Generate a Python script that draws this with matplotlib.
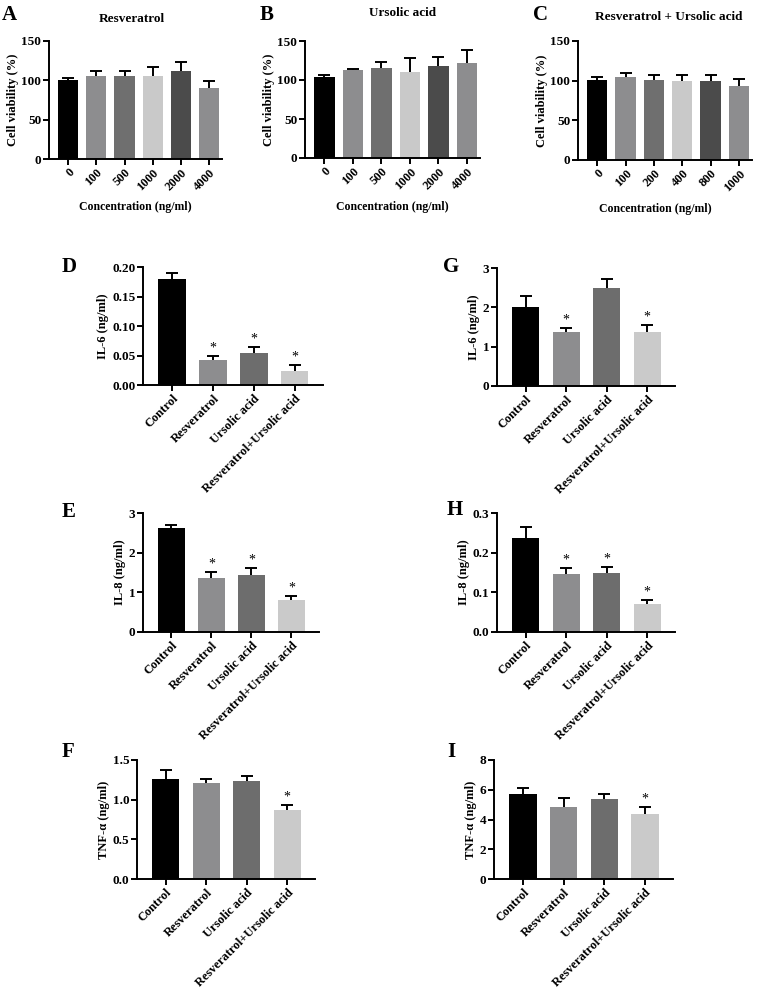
import numpy as np
import matplotlib
matplotlib.use("Agg")
import matplotlib.pyplot as plt

plt.rcParams['font.family'] = ['Liberation Serif', 'DejaVu Serif']
plt.rcParams['font.weight'] = 'bold'

W, H = 759, 992

# viability panels
conc_a = ['0', '100', '500', '1000', '2000', '4000']
via_a = [101, 105, 105.5, 105, 111.5, 90.5]
err_a = [2.5, 7, 6.5, 11.5, 12, 8.5]

conc_b = ['0', '100', '500', '1000', '2000', '4000']
via_b = [104, 112.5, 116, 110.5, 118, 122]
err_b = [1.8, 1.8, 7.5, 18, 11, 16]

conc_c = ['0', '100', '200', '400', '800', '1000']
via_c = [101.4, 104.7, 101, 99.4, 99.8, 93]
err_c = [3.6, 5, 6.3, 8, 7.5, 8.8]

via_colors = ['#000000', '#8d8d8f', '#6f6f6f', '#c9c9c9', '#4b4b4b', '#8d8d8f']

# cytokine panels
groups = ['Control', 'Resveratrol', 'Ursolic acid', 'Resveratrol+Ursolic acid']
grp_colors = ['#000000', '#8d8d8f', '#6d6d6d', '#cacaca']

il6_d = [0.180, 0.042, 0.0535, 0.023]
il6_d_err = [0.010, 0.0075, 0.0115, 0.0105]
il8_e = [2.61, 1.37, 1.43, 0.81]
il8_e_err = [0.09, 0.15, 0.18, 0.11]
tnf_f = [1.261, 1.207, 1.24, 0.871]
tnf_f_err = [0.113, 0.058, 0.059, 0.059]

il6_g = [2.0, 1.365, 2.485, 1.38]
il6_g_err = [0.30, 0.105, 0.225, 0.17]
il8_h = [0.2375, 0.1466, 0.150, 0.0708]
il8_h_err = [0.027, 0.016, 0.014, 0.0102]
tnf_i = [5.69, 4.86, 5.36, 4.39]
tnf_i_err = [0.43, 0.61, 0.36, 0.43]

sig_d = [False, True, True, True]
sig_e = [False, True, True, True]
sig_f = [False, False, False, True]
sig_g = [False, True, False, True]
sig_h = [False, True, True, True]
sig_i = [False, False, False, True]

fig = plt.figure(figsize=(W / 100, H / 100), dpi=100)


def px_axes(left, top, right, bottom):
    return fig.add_axes([left / W, 1 - bottom / H, (right - left) / W, (bottom - top) / H])


def bar_panel(ax, labels, vals, errs, colors, yticks, fmt, ylabel, xlim, width, sig=None):
    x = np.arange(len(vals))
    ax.errorbar(x, vals, yerr=errs, fmt='none', ecolor='black', elinewidth=1.4,
                capsize=4, capthick=1.4, zorder=1)
    ax.bar(x, vals, width=width, color=colors, zorder=2)
    ax.set_xlim(*xlim)
    ax.set_ylim(yticks[0], yticks[-1])
    ax.set_yticks(yticks)
    ax.set_yticklabels([fmt.format(t) for t in yticks], fontsize=9.5, fontweight='bold')
    ax.set_xticks(x)
    ax.set_xticklabels(labels, rotation=45, ha='right', rotation_mode='anchor',
                       fontsize=9, fontweight='bold')
    ax.set_ylabel(ylabel, fontsize=9, fontweight='bold', labelpad=2)
    for s in ['top', 'right']:
        ax.spines[s].set_visible(False)
    for s in ['left', 'bottom']:
        ax.spines[s].set_linewidth(1.4)
    ax.tick_params(width=1.4, length=4, pad=1.5)
    if sig is not None:
        for xi, v, e, s in zip(x, vals, errs, sig):
            if s:
                ax.annotate('*', (xi, v + e), xytext=(0, 1), textcoords='offset points',
                            ha='center', va='bottom', fontsize=10, fontweight='normal')


# top row
ax_a = px_axes(49, 41, 222, 159)
bar_panel(ax_a, conc_a, via_a, err_a, via_colors, [0, 50, 100, 150], '{:d}',
          'Cell viability (%)', (-0.68, 5.46), 0.72)
ax_b = px_axes(305, 41, 480, 158)
bar_panel(ax_b, conc_b, via_b, err_b, via_colors, [0, 50, 100, 150], '{:d}',
          'Cell viability (%)', (-0.68, 5.46), 0.72)
ax_c = px_axes(578, 41, 752, 160)
bar_panel(ax_c, conc_c, via_c, err_c, via_colors, [0, 50, 100, 150], '{:d}',
          'Cell viability (%)', (-0.68, 5.46), 0.72)

fig.text(132 / W, 1 - 19 / H, 'Resveratrol', ha='center', va='center', fontsize=9.5)
fig.text(403 / W, 1 - 13 / H, 'Ursolic acid', ha='center', va='center', fontsize=9.5)
fig.text(669 / W, 1 - 17 / H, 'Resveratrol + Ursolic acid', ha='center', va='center', fontsize=9.5)
for xc, yc in [(135, 207), (392, 207), (655, 209)]:
    fig.text(xc / W, 1 - yc / H, 'Concentration (ng/ml)', ha='center', va='center', fontsize=8.5)

# cytokines
xl4 = (-0.71, 3.69)
ax_d = px_axes(143, 267, 323, 385)
bar_panel(ax_d, groups, il6_d, il6_d_err, grp_colors, [0, 0.05, 0.10, 0.15, 0.20], '{:.2f}',
          'IL-6 (ng/ml)', xl4, 0.67, sig_d)
ax_g = px_axes(497, 268, 675, 386)
bar_panel(ax_g, groups, il6_g, il6_g_err, grp_colors, [0, 1, 2, 3], '{:d}',
          'IL-6 (ng/ml)', xl4, 0.67, sig_g)
ax_e = px_axes(143, 513, 319, 632)
bar_panel(ax_e, groups, il8_e, il8_e_err, grp_colors, [0, 1, 2, 3], '{:d}',
          'IL-8 (ng/ml)', xl4, 0.67, sig_e)
ax_h = px_axes(497, 513, 675, 632)
bar_panel(ax_h, groups, il8_h, il8_h_err, grp_colors, [0, 0.1, 0.2, 0.3], '{:.1f}',
          'IL-8 (ng/ml)', xl4, 0.67, sig_h)
ax_f = px_axes(137, 760, 315, 879)
bar_panel(ax_f, groups, tnf_f, tnf_f_err, grp_colors, [0, 0.5, 1.0, 1.5], '{:.1f}',
          'TNF-α (ng/ml)', xl4, 0.67, sig_f)
ax_i = px_axes(494, 760, 673, 879)
bar_panel(ax_i, groups, tnf_i, tnf_i_err, grp_colors, [0, 2, 4, 6, 8], '{:d}',
          'TNF-α (ng/ml)', xl4, 0.67, sig_i)

letters = [('A', 2, 5), ('B', 260, 5), ('C', 533, 5), ('D', 62, 257), ('G', 443, 257),
           ('E', 62, 502), ('H', 447, 500), ('F', 62, 742), ('I', 447, 742)]
for t, lx, ly in letters:
    fig.text(lx / W, 1 - ly / H, t, ha='left', va='top', fontsize=15, fontweight='bold')

fig.savefig('out.png', dpi=100)
